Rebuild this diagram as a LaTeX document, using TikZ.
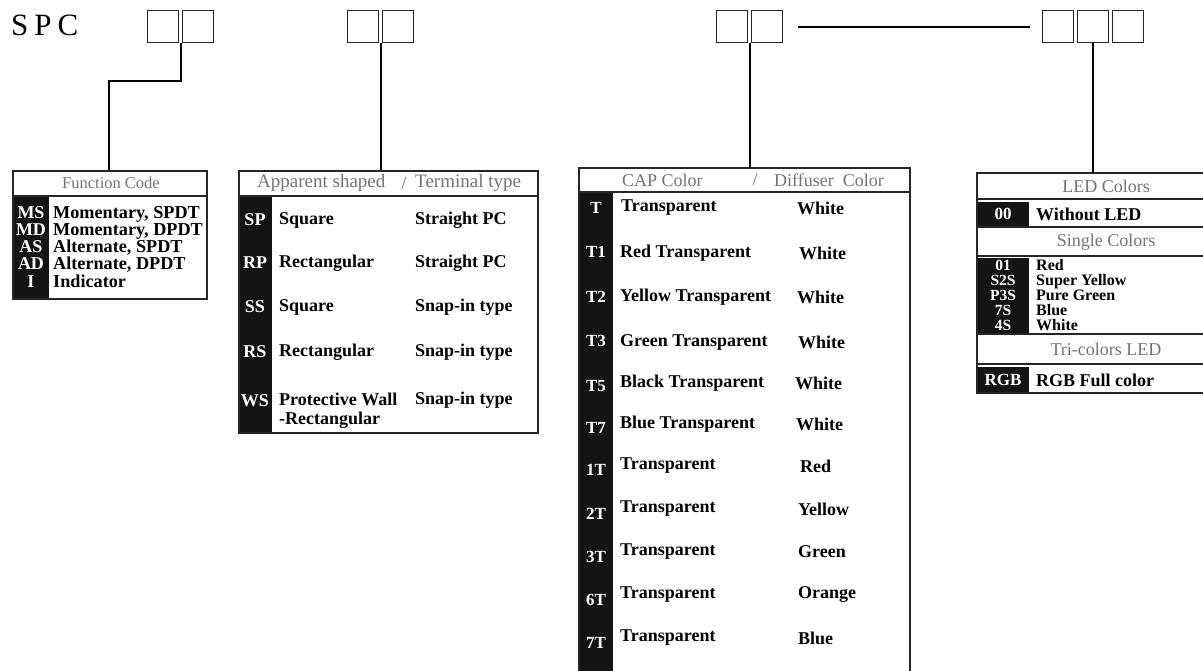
\documentclass[tikz,border=0pt]{standalone}
\usepackage{fontspec}
\setmainfont{Liberation Serif}
\usetikzlibrary{calc}
\begin{document}
\begin{tikzpicture}[x=1pt,y=-1pt,
  sq/.style={draw=black!85, line width=1.3pt, minimum width=31pt, minimum height=32pt, inner sep=0pt, anchor=north west},
  conn/.style={draw=black, line width=2pt},
  tbl/.style={draw=black!85, line width=1.5pt, inner sep=0pt, anchor=north west},
  hdr/.style={text=black!55, font=\fontsize{18}{18}\selectfont, inner sep=0pt},
  rowt/.style={font=\bfseries\fontsize{18}{18}\selectfont, anchor=west, inner sep=0pt},
  codet/.style={text=white, font=\bfseries\fontsize{17}{17}\selectfont, inner sep=0pt},
  blk/.style={fill=black!92},
  rule/.style={draw=black!85, line width=1.5pt}]
\useasboundingbox (0,0) rectangle (1203,670);
\fill[white] (0,0) rectangle (1203,670);

% ---- title and code boxes
\node[anchor=west, font=\fontsize{31}{31}\selectfont, inner sep=0pt] (spc) at (11,25) {S\hspace{6pt}P\hspace{6pt}C};
\node[sq] (a1) at (147,10) {};
\node[sq] (a2) at (182,10) {};
\node[sq] (b1) at (347,10) {};
\node[sq] (b2) at (382,10) {};
\node[sq] (c1) at (716,10) {};
\node[sq] (c2) at (751,10) {};
\node[sq] (d1) at (1042,10) {};
\node[sq] (d2) at (1077,10) {};
\node[sq] (d3) at (1112,10) {};
\draw[conn, line width=1.8pt] ([xshift=15pt]c2.east) -- ([xshift=-12pt]d1.west);

% ---- black columns (drawn first)
\fill[blk] (12,196) rectangle (49,298);
\fill[blk] (238,196) rectangle (272,432);
\fill[blk] (578,192) rectangle (613,680);
\fill[blk] (977,202) rectangle (1029,226);
\fill[blk] (977,258) rectangle (1029,333);
\fill[blk] (977,367) rectangle (1029,392);

% ---- tables
\node[tbl, minimum width=194pt, minimum height=128pt] (fc) at (12,170) {};
\node[tbl, minimum width=299pt, minimum height=262pt] (ap) at (238,170) {};
\node[tbl, minimum width=331pt, minimum height=515pt] (cap) at (578,167) {};
\node[minimum width=226pt, minimum height=220pt, inner sep=0pt, anchor=north west] (led) at (977,173) {};

\draw[rule] (12,196) -- (206,196);
\draw[rule] (238,196) -- (537,196);
\draw[rule] (578,192) -- (909,192);
\draw[rule] (1203,173) -| (977,393) -- (1203,393);
\foreach \yy in {199,227,256,334,364} \draw[rule] (977,\yy) -- (1203,\yy);

% ---- connectors
\coordinate (j1) at ($(a1.south east)!0.5!(a2.south west)$);
\coordinate (j2) at ($(b1.south east)!0.5!(b2.south west)$);
\coordinate (j3) at ($(c1.south east)!0.5!(c2.south west)$);
\coordinate (k1) at (109,81);
\draw[conn] (j1) |- (k1) -- (k1 |- fc.north);
\draw[conn] (j2) -- (j2 |- ap.north);
\draw[conn] (j3) -- (j3 |- cap.north);
\draw[conn] (d2.south) -- (d2.south |- led.north);

% ---- Function Code
\node[hdr, font=\fontsize{16.5}{16.5}\selectfont] (fch) at (111,183) {Function Code};
\node[codet, align=center, anchor=base, font=\bfseries\fontsize{18}{17.2}\selectfont] (fcc) at (31,287) {MS\\MD\\AS\\AD\\I};
\node[rowt, align=left, anchor=base west, font=\bfseries\fontsize{18.2}{17.2}\selectfont] (fct) at (53,287) {Momentary, SPDT\\Momentary, DPDT\\Alternate, SPDT\\Alternate, DPDT\\Indicator};

% ---- Apparent shaped / Terminal type
\node[hdr, anchor=west, font=\fontsize{19}{19}\selectfont] (aph1) at (257,183) {Apparent shaped};
\node[hdr, font=\fontsize{19}{19}\selectfont] (aph2) at (404,183) {/};
\node[hdr, anchor=west, font=\fontsize{19}{19}\selectfont] (aph3) at (415,183) {Terminal type};
\node[codet, font=\bfseries\fontsize{18}{18}\selectfont] (ac1) at (255,220) {SP};
\node[codet, font=\bfseries\fontsize{18}{18}\selectfont] (ac2) at (255,263) {RP};
\node[codet, font=\bfseries\fontsize{18}{18}\selectfont] (ac3) at (255,307) {SS};
\node[codet, font=\bfseries\fontsize{18}{18}\selectfont] (ac4) at (255,352) {RS};
\node[codet, font=\bfseries\fontsize{18}{18}\selectfont] (ac5) at (255,401) {WS};
\node[rowt] (as1) at (279,220) {Square};
\node[rowt] (as2) at (279,263) {Rectangular};
\node[rowt] (as3) at (279,307) {Square};
\node[rowt] (as4) at (279,352) {Rectangular};
\node[rowt, align=left, anchor=base west, font=\bfseries\fontsize{18}{19}\selectfont] (as5) at (279,424) {Protective Wall\\-Rectangular};
\node[rowt] (at1) at (415,220) {Straight PC};
\node[rowt] (at2) at (415,263) {Straight PC};
\node[rowt] (at3) at (415,307) {Snap-in type};
\node[rowt] (at4) at (415,352) {Snap-in type};
\node[rowt] (at5) at (415,400) {Snap-in type};

% ---- CAP Color / Diffuser Color
\node[hdr, anchor=west] (ch1) at (622,180) {CAP Color};
\node[hdr] (ch2) at (755,180) {/};
\node[hdr, anchor=west] (ch3) at (774,180) {Diffuser\hspace{9pt}Color};
\node[codet] (cc1) at (596,208) {T};
\node[codet] (cc2) at (596,252) {T1};
\node[codet] (cc3) at (596,297) {T2};
\node[codet] (cc4) at (596,341) {T3};
\node[codet] (cc5) at (596,386) {T5};
\node[codet] (cc6) at (596,428) {T7};
\node[codet] (cc7) at (596,470) {1T};
\node[codet] (cc8) at (596,514) {2T};
\node[codet] (cc9) at (596,557) {3T};
\node[codet] (cc10) at (596,600) {6T};
\node[codet] (cc11) at (596,643) {7T};
\node[rowt] (cl1) at (621,208) {Transparent};
\node[rowt] (cl2) at (620,253) {Red Transparent};
\node[rowt] (cl3) at (620,297) {Yellow Transparent};
\node[rowt] (cl4) at (620,342) {Green Transparent};
\node[rowt] (cl5) at (620,383) {Black Transparent};
\node[rowt] (cl6) at (620,424) {Blue Transparent};
\node[rowt] (cl7) at (620,466) {Transparent};
\node[rowt] (cl8) at (620,509) {Transparent};
\node[rowt] (cl9) at (620,552) {Transparent};
\node[rowt] (cl10) at (620,595) {Transparent};
\node[rowt] (cl11) at (620,638) {Transparent};
\node[rowt] (cr1) at (797,208) {White};
\node[rowt] (cr2) at (799,253) {White};
\node[rowt] (cr3) at (797,297) {White};
\node[rowt] (cr4) at (798,342) {White};
\node[rowt] (cr5) at (795,383) {White};
\node[rowt] (cr6) at (796,424) {White};
\node[rowt] (cr7) at (800,466) {Red};
\node[rowt] (cr8) at (798,509) {Yellow};
\node[rowt] (cr9) at (798,552) {Green};
\node[rowt] (cr10) at (798,595) {Orange};
\node[rowt] (cr11) at (798,638) {Blue};

% ---- LED Colors
\node[hdr] (lh1) at (1106,186) {LED Colors};
\node[hdr] (lh2) at (1106,242) {Single Colors};
\node[hdr] (lh3) at (1106,349) {Tri-colors LED};
\node[codet, font=\bfseries\fontsize{17}{17}\selectfont] (lc1) at (1003,214) {00};
\node[codet, align=center, anchor=base, font=\bfseries\fontsize{15.5}{15}\selectfont] (lcs) at (1003,330) {01\\S2S\\P3S\\7S\\4S};
\node[codet, font=\bfseries\fontsize{17}{17}\selectfont] (lc7) at (1003,380) {RGB};
\node[rowt] (lt1) at (1036,214) {Without LED};
\node[rowt, align=left, anchor=base west, font=\bfseries\fontsize{16}{15}\selectfont] (lts) at (1036,330) {Red\\Super Yellow\\Pure Green\\Blue\\White};
\node[rowt] (lt7) at (1036,380) {RGB Full color};
\end{tikzpicture}
\end{document}
